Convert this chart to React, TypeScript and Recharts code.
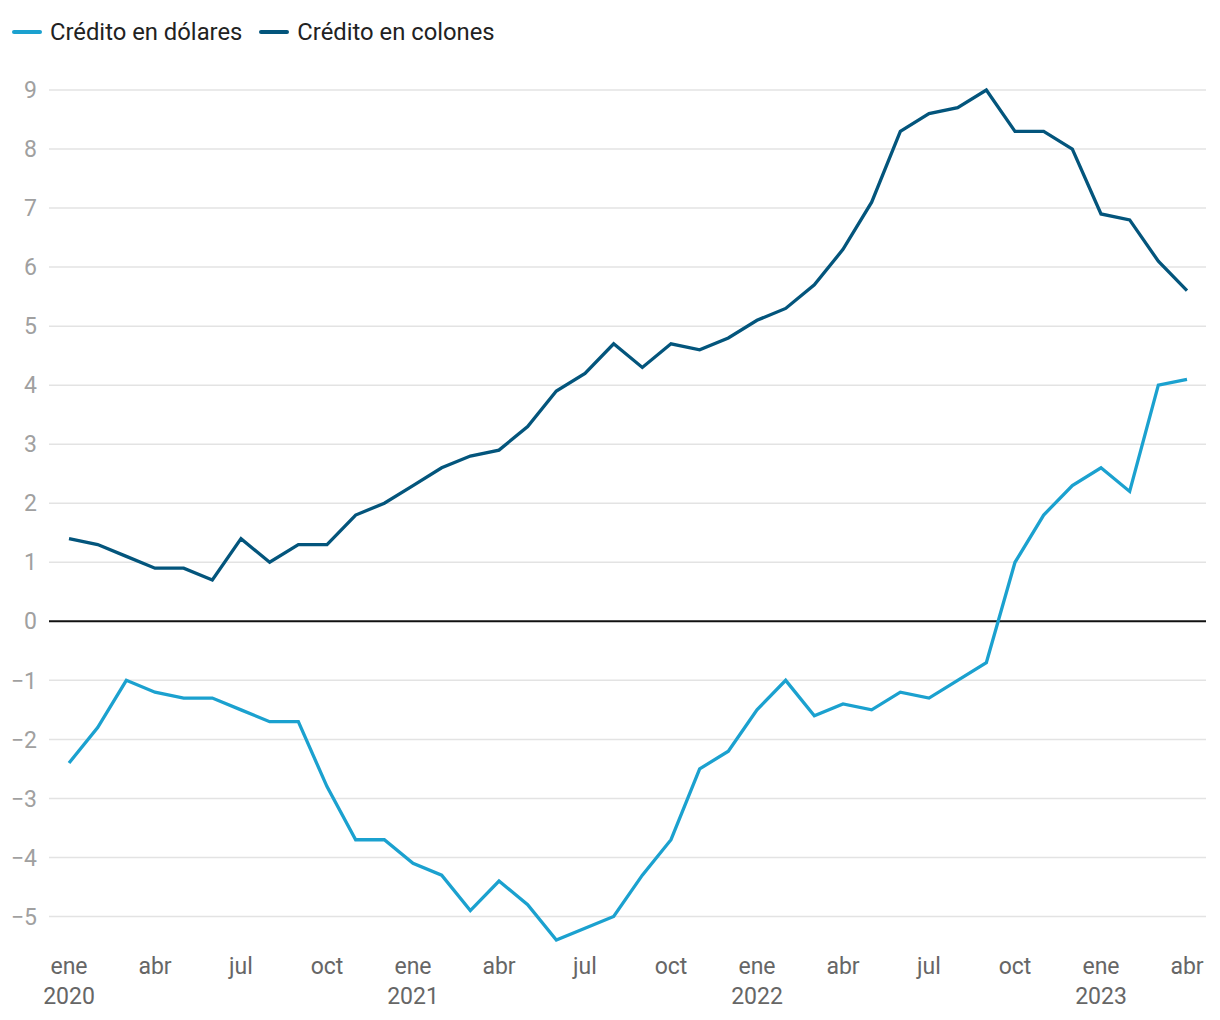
import { LineChart, Line, XAxis, YAxis, ReferenceLine } from 'recharts';

const monthNames = ['ene', 'feb', 'mar', 'abr', 'may', 'jun', 'jul', 'ago', 'sep', 'oct', 'nov', 'dic'];
const years = [2020, 2021, 2022, 2023];

// ene 2020 .. abr 2023, 40 months
const months: string[] = [];
years.forEach((y) => monthNames.forEach((m) => months.push(`${m} ${y}`)));
const categories = months.slice(0, 40);

const dolares = [
  -2.4, -1.8, -1.0, -1.2, -1.3, -1.3, -1.5, -1.7, -1.7, -2.8, -3.7, -3.7,
  -4.1, -4.3, -4.9, -4.4, -4.8, -5.4, -5.2, -5.0, -4.3, -3.7, -2.5, -2.2,
  -1.5, -1.0, -1.6, -1.4, -1.5, -1.2, -1.3, -1.0, -0.7, 1.0, 1.8, 2.3,
  2.6, 2.2, 4.0, 4.1,
];

const colones = [
  1.4, 1.3, 1.1, 0.9, 0.9, 0.7, 1.4, 1.0, 1.3, 1.3, 1.8, 2.0,
  2.3, 2.6, 2.8, 2.9, 3.3, 3.9, 4.2, 4.7, 4.3, 4.7, 4.6, 4.8,
  5.1, 5.3, 5.7, 6.3, 7.1, 8.3, 8.6, 8.7, 9.0, 8.3, 8.3, 8.0,
  6.9, 6.8, 6.1, 5.6,
];

const yTicks = [-5, -4, -3, -2, -1, 0, 1, 2, 3, 4, 5, 6, 7, 8, 9];
const xTicks = categories.filter((_, i) => i % 3 === 0);

const data = categories.map((month, i) => ({ month, dolares: dolares[i], colones: colones[i] }));

const LIGHT = '#1ba1cf';
const DARK = '#03557c';
const FONT = 'Roboto, sans-serif';

const series = [
  { key: 'dolares', label: 'Crédito en dólares', color: LIGHT },
  { key: 'colones', label: 'Crédito en colones', color: DARK },
];

function MonthTick({ x, y, payload }: any) {
  const [m, yr] = String(payload.value).split(' ');
  return (
    <g transform={`translate(${x},${y})`}>
      <text textAnchor="middle" y={20} fill="#666" fontSize={23} fontFamily={FONT}>{m}</text>
      {m === 'ene' && (
        <text textAnchor="middle" y={50} fill="#666" fontSize={23} fontFamily={FONT}>{yr}</text>
      )}
    </g>
  );
}

function TopLegend() {
  return (
    <div
      style={{
        position: 'absolute', left: 12, top: 17, display: 'flex', alignItems: 'center',
        fontFamily: FONT, fontSize: 23.8, color: '#222', lineHeight: '30px',
      }}
    >
      {series.map((s) => (
        <div key={s.key} style={{ display: 'flex', alignItems: 'center', marginRight: 17 }}>
          <span style={{ display: 'inline-block', width: 30, height: 4, borderRadius: 2, background: s.color, marginRight: 8 }} />
          <span>{s.label}</span>
        </div>
      ))}
    </div>
  );
}

export default function App() {
  return (
    <div style={{ position: 'absolute', left: 0, top: 0, width: 1220, height: 1020, background: '#fff' }}>
      <TopLegend />
      <LineChart width={1220} height={1020} data={data} margin={{ top: 90, right: 14, bottom: 0, left: 0 }}>
        <XAxis
          dataKey="month"
          ticks={xTicks}
          interval={0}
          tick={<MonthTick />}
          axisLine={false}
          tickLine={false}
          height={74}
          padding={{ left: 20, right: 19 }}
        />
        <YAxis
          domain={[-5.5, 9]}
          ticks={yTicks}
          interval={0}
          width={49}
          axisLine={false}
          tickLine={false}
          tickSize={0}
          tickMargin={12}
          tickFormatter={(v: number) => (v < 0 ? `−${Math.abs(v)}` : String(v))}
          tick={{ fill: '#a0a0a0', fontSize: 23, fontFamily: FONT }}
        />
        {yTicks.filter((t) => t !== 0).map((t) => (
          <ReferenceLine key={t} y={t} stroke="#e3e3e3" strokeWidth={1.5} />
        ))}
        <ReferenceLine y={0} stroke="#111" strokeWidth={2} />
        {series.map((s) => (
          <Line
            key={s.key}
            type="linear"
            dataKey={s.key}
            name={s.label}
            stroke={s.color}
            strokeWidth={3.3}
            dot={false}
            isAnimationActive={false}
          />
        ))}
      </LineChart>
    </div>
  );
}
